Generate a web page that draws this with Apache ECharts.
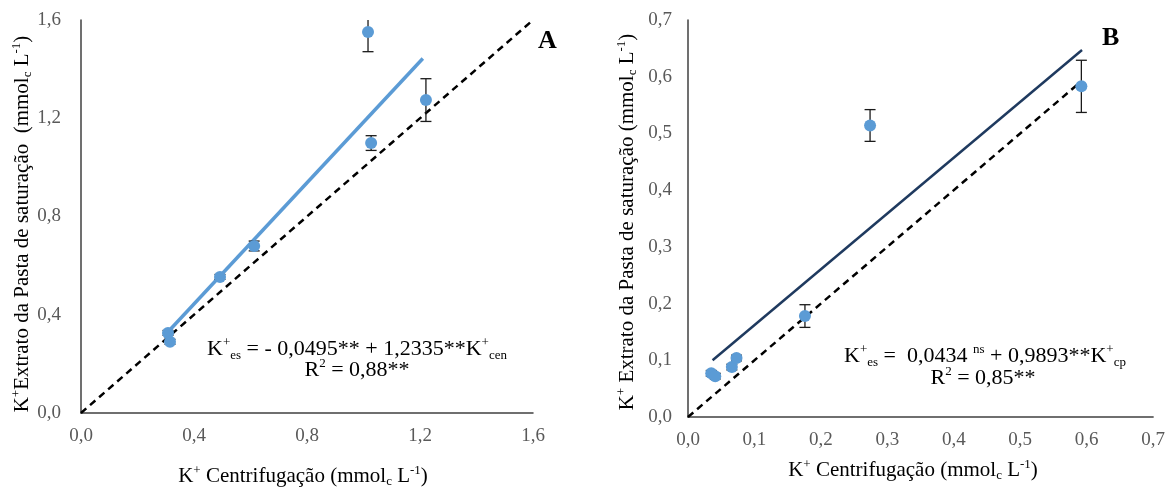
<!DOCTYPE html>
<html>
<head>
<meta charset="utf-8">
<script src="https://cdn.jsdelivr.net/npm/echarts@6/dist/echarts.min.js"></script>
<style>
html,body{margin:0;padding:0;background:#fff;}
#c{width:1168px;height:488px;}
</style>
</head>
<body>
<div id="c"></div>
<script>
// ---- Panel A data ----
const aX   = [0.308, 0.315, 0.492, 0.613, 1.016, 1.027, 1.221];
const aY   = [0.326, 0.290, 0.554, 0.680, 1.551, 1.099, 1.274];
const aErr = [0.010, 0.010, 0.010, 0.020, 0.080, 0.030, 0.087];
const aFit = [[0.31, 0.333], [1.21, 1.443]];
const aOne = [[0, 0], [1.6, 1.6]];
const aTicks = [0, 0.4, 0.8, 1.2, 1.6];

// ---- Panel B data ----
const bX   = [0.035, 0.041, 0.066, 0.073, 0.176, 0.274, 0.592];
const bY   = [0.077, 0.072, 0.088, 0.104, 0.178, 0.514, 0.583];
const bErr = [0.005, 0.005, 0.005, 0.005, 0.020, 0.028, 0.046];
const bFit = [[0.037, 0.100], [0.593, 0.647]];
const bOne = [[0, 0], [0.59, 0.59]];
const bTicks = [0, 0.1, 0.2, 0.3, 0.4, 0.5, 0.6, 0.7];

const FONT = '"Liberation Serif","Times New Roman",serif';
const fmt = v => v.toFixed(1).replace('.', ',');

function pts(xs, ys){ return xs.map((x,i)=>[x, ys[i]]); }
function errs(xs, ys, es){ return xs.map((x,i)=>[x, ys[i]-es[i], ys[i]+es[i]]); }

function errRender(params, api){
  const x = api.value(0), lo = api.value(1), hi = api.value(2);
  const p1 = api.coord([x, lo]), p2 = api.coord([x, hi]);
  const w = 5.5;
  const st = {stroke:'#1a1a1a', lineWidth:1.3};
  return {type:'group', children:[
    {type:'line', shape:{x1:p1[0],y1:p1[1],x2:p2[0],y2:p2[1]}, style:st},
    {type:'line', shape:{x1:p1[0]-w,y1:p1[1],x2:p1[0]+w,y2:p1[1]}, style:st},
    {type:'line', shape:{x1:p2[0]-w,y1:p2[1],x2:p2[0]+w,y2:p2[1]}, style:st}
  ]};
}

function xAxis(idx, max, interval){
  return {type:'value', gridIndex:idx, min:0, max:max, interval:interval,
    axisLine:{show:true, onZero:false, lineStyle:{color:'#404040', width:1.5}},
    axisTick:{show:false}, splitLine:{show:false},
    axisLabel:{formatter:fmt, fontFamily:FONT, fontSize:19, color:'#595959', margin:14}};
}
function yAxis(idx, max, interval, margin){
  return {type:'value', gridIndex:idx, min:0, max:max, interval:interval,
    axisLine:{show:true, onZero:false, lineStyle:{color:'#404040', width:1.5}},
    axisTick:{show:false}, splitLine:{show:false},
    axisLabel:{formatter:fmt, fontFamily:FONT, fontSize:19, color:'#595959', margin:margin}};
}

const rich = {
  n:{fontFamily:FONT, fontSize:22, color:'#262626'},
  sup:{fontFamily:FONT, fontSize:13, color:'#262626', verticalAlign:'top', lineHeight:26},
  sub:{fontFamily:FONT, fontSize:13, color:'#262626', verticalAlign:'bottom', lineHeight:26}
};
const richT = {
  n:{fontFamily:FONT, fontSize:21, color:'#262626'},
  sup:{fontFamily:FONT, fontSize:13, color:'#262626', verticalAlign:'top', lineHeight:24},
  sub:{fontFamily:FONT, fontSize:13, color:'#262626', verticalAlign:'bottom', lineHeight:24}
};

const chart = echarts.init(document.getElementById('c'), null, {renderer:'canvas'});
chart.setOption({
  backgroundColor:'#fff',
  animation:false,
  grid:[
    {left:81, top:20, width:452, height:393},
    {left:688, top:20, width:470, height:397}
  ],
  xAxis:[xAxis(0, 1.6, 0.4), xAxis(1, 0.7, 0.1)],
  yAxis:[yAxis(0, 1.6, 0.4, 20), yAxis(1, 0.7, 0.1, 16)],
  series:[
    {type:'line', xAxisIndex:0, yAxisIndex:0, data:aOne, symbol:'none', z:2,
     lineStyle:{color:'#000', width:2.5, type:[7,5]}},
    {type:'line', xAxisIndex:0, yAxisIndex:0, data:aFit, symbol:'none', z:3,
     lineStyle:{color:'#5B9BD5', width:3.5}},
    {type:'custom', xAxisIndex:0, yAxisIndex:0, data:errs(aX,aY,aErr), renderItem:errRender, clip:true, z:4},
    {type:'scatter', xAxisIndex:0, yAxisIndex:0, data:pts(aX,aY), symbolSize:12, z:5,
     itemStyle:{color:'#5B9BD5', opacity:1}},

    {type:'line', xAxisIndex:1, yAxisIndex:1, data:bOne, symbol:'none', z:2,
     lineStyle:{color:'#000', width:2.5, type:[7,5]}},
    {type:'line', xAxisIndex:1, yAxisIndex:1, data:bFit, symbol:'none', z:3,
     lineStyle:{color:'#1F3A5F', width:2.5}},
    {type:'custom', xAxisIndex:1, yAxisIndex:1, data:errs(bX,bY,bErr), renderItem:errRender, clip:true, z:4},
    {type:'scatter', xAxisIndex:1, yAxisIndex:1, data:pts(bX,bY), symbolSize:12, z:5,
     itemStyle:{color:'#5B9BD5', opacity:1}}
  ],
  graphic:[
    {type:'text', left:538, top:28, style:{text:'A', font:'bold 26px '+FONT, fill:'#000'}},
    {type:'text', left:1102, top:25, style:{text:'B', font:'bold 26px '+FONT, fill:'#000'}},
    // equation A
    {type:'text', x:357, y:349, style:{
      text:'{n|K}{sup|+}{sub|es}{n| = - 0,0495** + 1,2335**K}{sup|+}{sub|cen}',
      rich:rich, align:'center', verticalAlign:'middle'}},
    {type:'text', x:357, y:370, style:{
      text:'{n|R}{sup|2}{n| = 0,88**}', rich:rich, align:'center', verticalAlign:'middle'}},
    // equation B
    {type:'text', x:985, y:356, style:{
      text:'{n|K}{sup|+}{sub|es}{n| =  0,0434 }{sup|ns}{n| + 0,9893**K}{sup|+}{sub|cp}',
      rich:rich, align:'center', verticalAlign:'middle'}},
    {type:'text', x:983, y:378, style:{
      text:'{n|R}{sup|2}{n| = 0,85**}', rich:rich, align:'center', verticalAlign:'middle'}},
    // x axis titles
    {type:'text', x:303, y:476, style:{
      text:'{n|K}{sup|+}{n| Centrifugação (mmol}{sub|c}{n| L}{sup|-1}{n|)}',
      rich:richT, align:'center', verticalAlign:'middle'}},
    {type:'text', x:913, y:470, style:{
      text:'{n|K}{sup|+}{n| Centrifugação (mmol}{sub|c}{n| L}{sup|-1}{n|)}',
      rich:richT, align:'center', verticalAlign:'middle'}},
    // y axis titles
    {type:'text', x:22, y:224, rotation:Math.PI/2, style:{
      text:'{n|K}{sup|+}{n|Extrato da Pasta de saturação  (mmol}{sub|c}{n| L}{sup|-1}{n|)}',
      rich:richT, align:'center', verticalAlign:'middle'}},
    {type:'text', x:627, y:222, rotation:Math.PI/2, style:{
      text:'{n|K}{sup|+}{n| Extrato da Pasta de saturação (mmol}{sub|c}{n| L}{sup|-1}{n|)}',
      rich:richT, align:'center', verticalAlign:'middle'}}
  ]
});
</script>
</body>
</html>
